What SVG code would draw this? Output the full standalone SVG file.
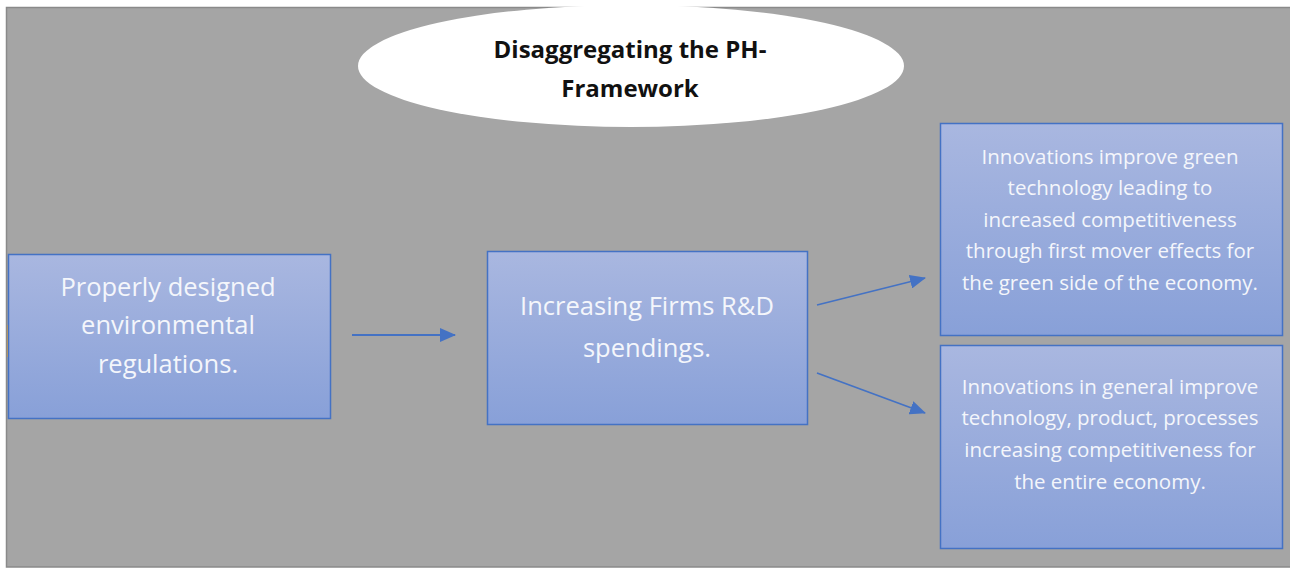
<svg xmlns="http://www.w3.org/2000/svg" width="1290" height="568" viewBox="0 0 1290 568">
  <defs>
    <linearGradient id="boxGrad" x1="0" y1="0" x2="0" y2="1">
      <stop offset="0" stop-color="#a9b7e0"/>
      <stop offset="1" stop-color="#88a0d8"/>
    </linearGradient>
    <marker id="arrowL" markerWidth="16" markerHeight="14" refX="15" refY="7" orient="auto" markerUnits="userSpaceOnUse" viewBox="0 0 16 14">
      <path d="M0,0 L16,7 L0,14 Z" fill="#4472c4"/>
    </marker>
  </defs>
  <style>
    .box { fill: url(#boxGrad); stroke: #4472c4; stroke-width: 1.5; }
    .big { font-family: "Open Sans", "Liberation Sans", sans-serif; font-size: 25.5px; fill: #f4f6fb; text-anchor: middle; }
    .small { font-family: "Open Sans", "Liberation Sans", sans-serif; font-size: 20.5px; fill: #f4f6fb; text-anchor: middle; }
    .title { font-family: "Open Sans", "Liberation Sans", sans-serif; font-size: 24px; font-weight: bold; fill: #111; text-anchor: middle; }
    .conn { stroke: #4472c4; stroke-width: 1.8; fill: none; marker-end: url(#arrowL); }
  </style>
  <rect x="0" y="0" width="1290" height="568" fill="#ffffff"/>
  <rect x="6.5" y="7.5" width="1290" height="559.5" fill="#a5a5a5" stroke="#8a8a8a" stroke-width="1.5"/>
  <line x1="8" y1="325" x2="8" y2="357" stroke="#d4a24a" stroke-width="2"/>

  <g id="title">
    <ellipse cx="631" cy="66" rx="273" ry="61" fill="#ffffff"/>
    <text class="title" x="630" y="58">Disaggregating the PH-</text>
    <text class="title" x="630" y="97">Framework</text>
  </g>

  <g id="node-regulations">
    <rect class="box" x="8.5" y="254.5" width="322" height="164"/>
    <text class="big" x="168" y="296">Properly designed</text>
    <text class="big" x="168" y="334">environmental</text>
    <text class="big" x="168" y="373">regulations.</text>
  </g>

  <g id="node-rd">
    <rect class="box" x="487.5" y="251.5" width="320" height="173"/>
    <text class="big" x="647" y="315">Increasing Firms R&amp;D</text>
    <text class="big" x="647" y="357">spendings.</text>
  </g>

  <g id="node-green">
    <rect class="box" x="940.5" y="123.5" width="342" height="212"/>
    <text class="small" x="1110" y="164">Innovations improve green</text>
    <text class="small" x="1110" y="195">technology leading to</text>
    <text class="small" x="1110" y="227">increased competitiveness</text>
    <text class="small" x="1110" y="258">through first mover effects for</text>
    <text class="small" x="1110" y="290">the green side of the economy.</text>
  </g>

  <g id="node-general">
    <rect class="box" x="940.5" y="345.5" width="342" height="203"/>
    <text class="small" x="1110" y="394">Innovations in general improve</text>
    <text class="small" x="1110" y="425">technology, product, processes</text>
    <text class="small" x="1110" y="457">increasing competitiveness for</text>
    <text class="small" x="1110" y="489">the entire economy.</text>
  </g>

  <g id="connectors">
    <line class="conn" x1="352" y1="335" x2="455" y2="335"/>
    <line class="conn" x1="817" y1="305" x2="925" y2="278"/>
    <line class="conn" x1="817" y1="373" x2="925" y2="413"/>
  </g>
</svg>
